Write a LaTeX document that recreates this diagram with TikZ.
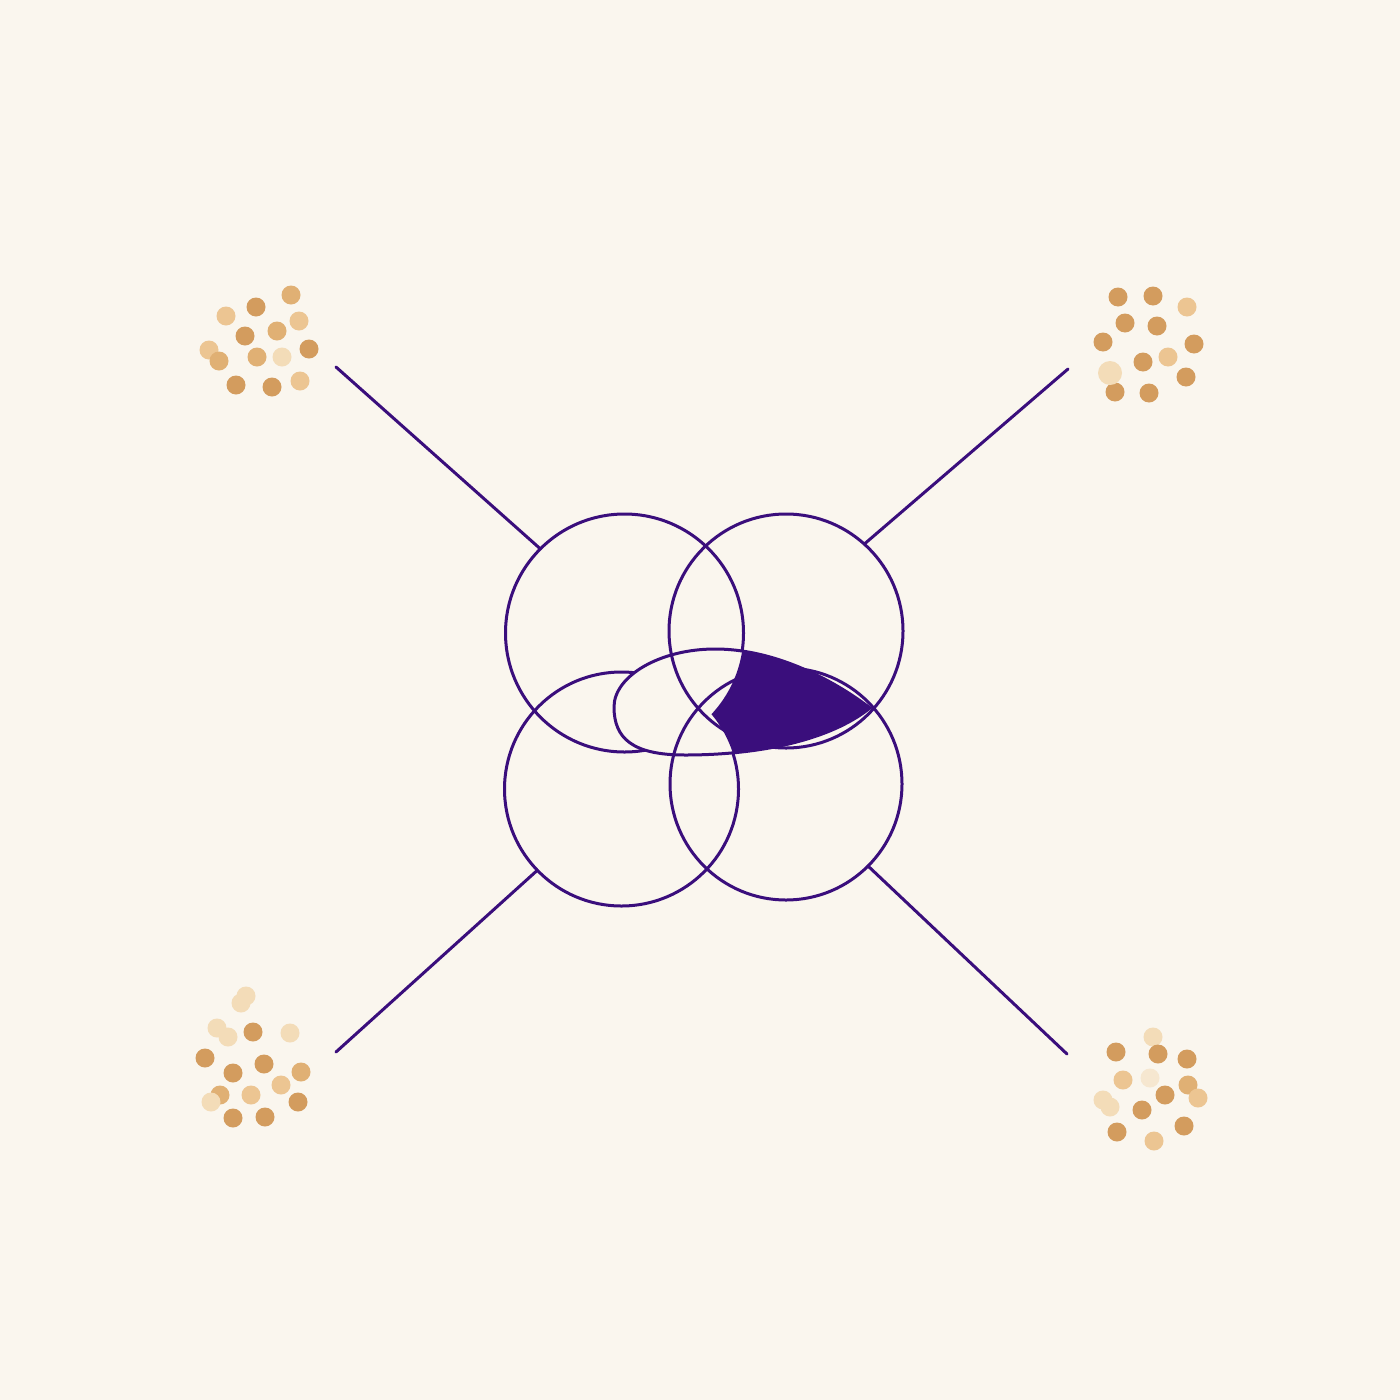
\documentclass[tikz,border=0pt]{standalone}
\definecolor{bg}{HTML}{FAF6EE}
\definecolor{ink}{HTML}{3A0E7C}
\definecolor{dA}{HTML}{D39C5E}
\definecolor{dB}{HTML}{E0B074}
\definecolor{dC}{HTML}{ECC592}
\definecolor{dD}{HTML}{F3DCB8}
\definecolor{dE}{HTML}{F6E7D0}
\tikzset{
  ring/.style={circle, draw=ink, line width=3pt, inner sep=0pt, outer sep=0pt},
  spoke/.style={draw=ink, line width=3pt, line cap=round},
  curve/.style={draw=ink, line width=3pt},
}
\def\eggpath{(614,707) .. controls (614,676) and (660,649) .. (715,649)
   .. controls (780,649) and (840,685) .. (870,708)
   .. controls (830,740) and (760,755) .. (685,755)
   .. controls (632,755) and (614,738) .. (614,707) -- cycle}
\begin{document}
\begin{tikzpicture}[x=1pt,y=-1pt]
\fill[bg] (0,0) rectangle (1400,1400);
\useasboundingbox (0,0) rectangle (1400,1400);

% circle centres
\coordinate (o1) at (624.5,633);
\coordinate (o2) at (786,631);
\coordinate (o3) at (621.5,789);
\coordinate (o4) at (786,784);

% left rings (partly hidden by the egg)
\node[ring, minimum size=238pt] (c1) at (o1) {};
\node[ring, minimum size=234pt] (c3) at (o3) {};

% egg interior hides the left rings
\fill[bg] \eggpath;

% right rings
\node[ring, minimum size=234pt] (c2) at (o2) {};
\node[ring, minimum size=232pt] (c4) at (o4) {};

% purple region: egg outside the two left discs
\begin{scope}
  \clip \eggpath;
  \begin{scope}[even odd rule]
    \clip (0,0) rectangle (1400,1400) (o1) circle[radius=119pt];
    \clip (0,0) rectangle (1400,1400) (o3) circle[radius=117pt];
    \fill[ink] (600,640) rectangle (880,770);
  \end{scope}
\end{scope}

% egg outline
\draw[curve] \eggpath;

% spokes
\coordinate (e1) at (336,367);
\coordinate (e2) at (1068,369);
\coordinate (e3) at (336,1052);
\coordinate (e4) at (1067,1054);
\draw[spoke] (e1) -- (c1.135.7);
\draw[spoke] (e2) -- (c2.48.4);
\draw[spoke] (e3) -- (c3.224.7);
\draw[spoke] (e4) -- (c4.315);

% dot clusters
\foreach \x/\y/\c in {291/295/dB, 256/307/dA, 226/316/dC, 299/321/dC, 245/336/dA,
  277/331/dB, 209/350/dC, 219/361/dB, 257/357/dB, 282/357/dD, 309/349/dA,
  236/385/dA, 272/387/dA, 300/381/dC}
  \fill[\c] (\x,\y) circle[radius=9.5pt];
\foreach \x/\y/\c in {1118/297/dA, 1153/296/dA, 1187/307/dC, 1125/323/dA, 1157/326/dA,
  1103/342/dA, 1194/344/dA, 1143/362/dA, 1168/357/dC, 1186/377/dA,
  1115/392/dA, 1149/393/dA}
  \fill[\c] (\x,\y) circle[radius=9.5pt];
\fill[dD] (1110,373) circle[radius=12pt];
\foreach \x/\y/\c in {246/996/dD, 241/1003/dD, 217/1028/dD, 228/1037/dD, 253/1032/dA,
  290/1033/dD, 205/1058/dA, 264/1064/dA, 233/1073/dA, 301/1072/dB,
  281/1085/dC, 220/1095/dB, 211/1102/dD, 251/1095/dC, 298/1102/dA,
  233/1118/dA, 265/1117/dA}
  \fill[\c] (\x,\y) circle[radius=9.5pt];
\foreach \x/\y/\c in {1153/1037/dD, 1116/1052/dA, 1158/1054/dA, 1187/1059/dA,
  1123/1080/dC, 1150/1078/dE, 1188/1085/dB, 1165/1095/dA, 1198/1098/dC,
  1103/1100/dD, 1110/1107/dD, 1142/1110/dA, 1184/1126/dA, 1117/1132/dA,
  1154/1141/dC}
  \fill[\c] (\x,\y) circle[radius=9.5pt];
\end{tikzpicture}
\end{document}
